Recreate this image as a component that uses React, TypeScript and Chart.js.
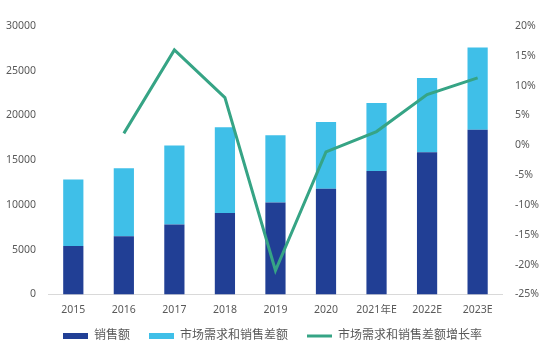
import React, { useEffect, useRef } from "react";
import { Chart, registerables } from "chart.js";

Chart.register(...registerables);

const categories = ["2015", "2016", "2017", "2018", "2019", "2020", "2021年E", "2022E", "2023E"];
const salesValues = [5400, 6500, 7800, 9100, 10270, 11800, 13800, 15900, 18400];
const gapValues = [7450, 7600, 8850, 9570, 7530, 7460, 7600, 8300, 9200];
const gapGrowth = [null, 0.02, 0.16, 0.08, -0.21, -0.011, 0.023, 0.085, 0.113];
const seriesNames = ["销售额", "市场需求和销售差额", "市场需求和销售差额增长率"];

const FONT = "'Noto Sans', 'Noto Sans CJK SC', sans-serif";
const TEXT = "#595959";
const X_SHRINK = 14;

export default function App() {
  const ref = useRef<HTMLCanvasElement | null>(null);
  useEffect(() => {
    document.body.style.margin = "0";
    const unclip = {
      id: "unclipX",
      afterLayout(chart: any) {
        const x = chart.scales.x;
        if (x) {
          x.bottom += X_SHRINK;
          x.height += X_SHRINK;
        }
      },
    };
    const chart = new Chart(ref.current as HTMLCanvasElement, {
      type: "bar",
      plugins: [unclip],
      data: {
        labels: categories,
        datasets: [
          {
            type: "bar",
            label: seriesNames[0],
            data: salesValues,
            backgroundColor: "#213f95",
            yAxisID: "y",
            stack: "s",
            order: 0,
            pointStyle: "rect",
          } as any,
          {
            type: "bar",
            label: seriesNames[1],
            data: gapValues,
            backgroundColor: "#3fbfe8",
            yAxisID: "y",
            stack: "s",
            order: 0,
            pointStyle: "rect",
          } as any,
          {
            type: "line",
            label: seriesNames[2],
            data: gapGrowth,
            borderColor: "#36a485",
            backgroundColor: "#36a485",
            borderWidth: 3,
            pointRadius: 0,
            pointBorderWidth: 3,
            pointStyle: "line",
            yAxisID: "y1",
            order: -1,
            tension: 0,
          } as any,
        ],
      },
      options: {
        animation: false,
        responsive: true,
        maintainAspectRatio: false,
        layout: { padding: { top: 26, right: -6, left: -6, bottom: 1 } },
        datasets: { bar: { categoryPercentage: 1, barPercentage: 0.4 } },
        plugins: {
          tooltip: { enabled: false },
          legend: {
            position: "bottom",
            labels: {
              usePointStyle: true,
              pointStyleWidth: 25,
              boxWidth: 25,
              boxHeight: 6,
              padding: 19,
              color: TEXT,
              font: { family: FONT, size: 12 },
              sort: (a: any, b: any) => a.datasetIndex - b.datasetIndex,
            },
          },
        },
        scales: {
          x: {
            grid: { display: false, drawTicks: false },
            border: { display: true, color: "#d9d9d9" },
            afterFit: (scale: any) => {
              scale.height -= X_SHRINK;
            },
            ticks: {
              color: TEXT,
              font: { family: FONT, size: 10.5 },
              padding: 9,
              maxRotation: 0,
              minRotation: 0,
              autoSkip: false,
            },
          },
          y: {
            position: "left",
            min: 0,
            max: 30000,
            grid: { display: false, drawTicks: false },
            border: { display: false },
            ticks: {
              stepSize: 5000,
              color: TEXT,
              font: { family: FONT, size: 10.5 },
              padding: 12,
              callback: (v: any) => String(v),
            },
          },
          y1: {
            position: "right",
            min: -0.25,
            max: 0.2,
            grid: { display: false, drawTicks: false },
            border: { display: false },
            ticks: {
              stepSize: 0.05,
              color: TEXT,
              font: { family: FONT, size: 10.5 },
              padding: 12,
              callback: (v: any) => Math.round(Number(v) * 100) + "%",
            },
          },
        },
      },
    });
    return () => chart.destroy();
  }, []);
  return (
    <div style={{ width: 545, height: 353, position: "relative" }}>
      <canvas ref={ref} />
    </div>
  );
}
